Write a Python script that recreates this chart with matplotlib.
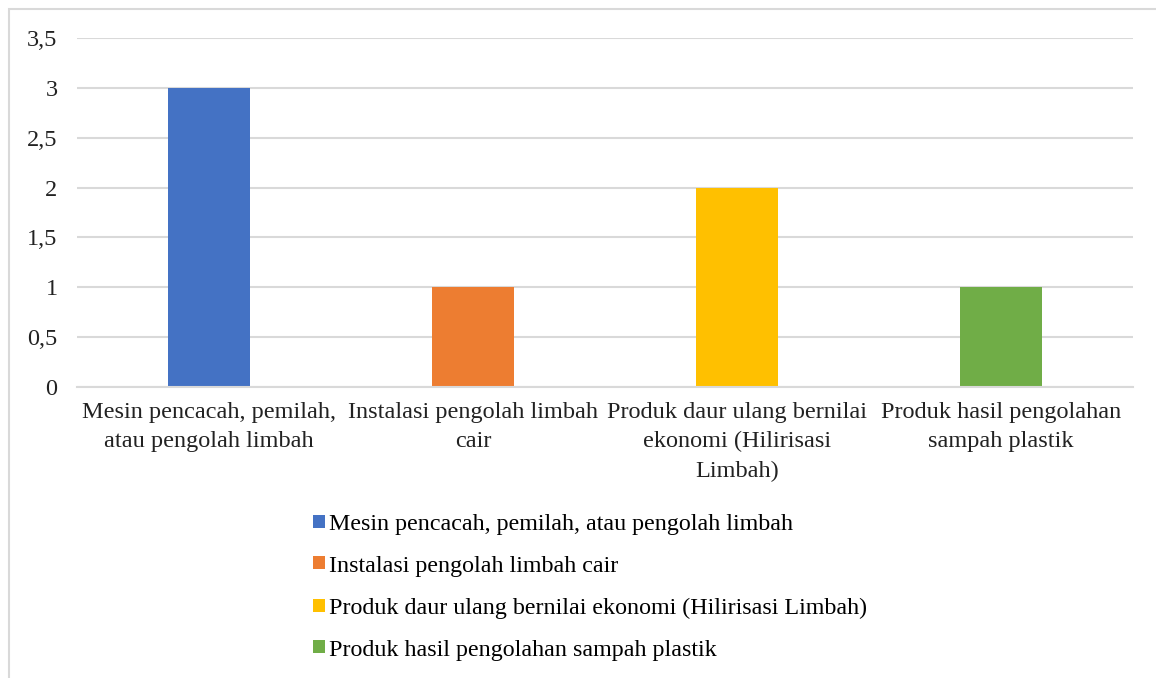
import matplotlib.pyplot as plt
from matplotlib.patches import Rectangle

# data
categories = [
    "Mesin pencacah, pemilah, atau pengolah limbah",
    "Instalasi pengolah limbah cair",
    "Produk daur ulang bernilai ekonomi (Hilirisasi Limbah)",
    "Produk hasil pengolahan sampah plastik",
]
tick_labels = [
    "Mesin pencacah, pemilah,\natau pengolah limbah",
    "Instalasi pengolah limbah\ncair",
    "Produk daur ulang bernilai\nekonomi (Hilirisasi\nLimbah)",
    "Produk hasil pengolahan\nsampah plastik",
]
values = [3, 1, 2, 1]
colors = ["#4472C4", "#ED7D31", "#FFC000", "#70AD47"]
yticks = [0, 0.5, 1, 1.5, 2, 2.5, 3, 3.5]

plt.rcParams['font.family'] = ['Liberation Serif', 'DejaVu Serif']
FS = 17.5

fig = plt.figure(figsize=(11.56, 6.78), dpi=100)
ax = fig.add_axes([77 / 1156, 1 - 387 / 678, (1133 - 77) / 1156, (387 - 38) / 678])

x = list(range(len(categories)))
bars = ax.bar(x, values, width=0.31, color=colors, zorder=3, label=categories)

ax.set_xlim(-0.5, len(categories) - 0.5)
ax.set_ylim(0, 3.5)
ax.set_yticks(yticks)
ax.set_yticklabels([f"{t:g}".replace('.', ',') for t in yticks], fontsize=FS, color='#222222')
ax.set_xticks(x)
ax.set_xticklabels(tick_labels, fontsize=FS, linespacing=1.5, color='#222222')
ax.tick_params(axis='both', length=0)
ax.tick_params(axis='y', pad=14)
ax.tick_params(axis='x', pad=11)
ax.grid(axis='y', color='#d9d9d9', linewidth=1.5, zorder=0)
for s in ['top', 'right', 'left']:
    ax.spines[s].set_visible(False)
ax.spines['bottom'].set_color('#d9d9d9')
ax.spines['bottom'].set_linewidth(1.5)
ax.spines['bottom'].set_zorder(4)

leg = fig.legend(handles=list(bars), labels=categories, loc='upper left',
                 bbox_to_anchor=(303 / 1156, 1 - 504 / 678), frameon=False,
                 fontsize=17.3, handlelength=0.5, handleheight=0.46,
                 handletextpad=0.2, labelspacing=0.87, borderaxespad=0)

# outer chart border
fig.patches.append(Rectangle((9 / 1156, -0.1), 1.2, 1 - 9 / 678 + 0.1,
                             transform=fig.transFigure, fill=False,
                             edgecolor='#d9d9d9', linewidth=1.5))

fig.savefig('out.png', dpi=100)
